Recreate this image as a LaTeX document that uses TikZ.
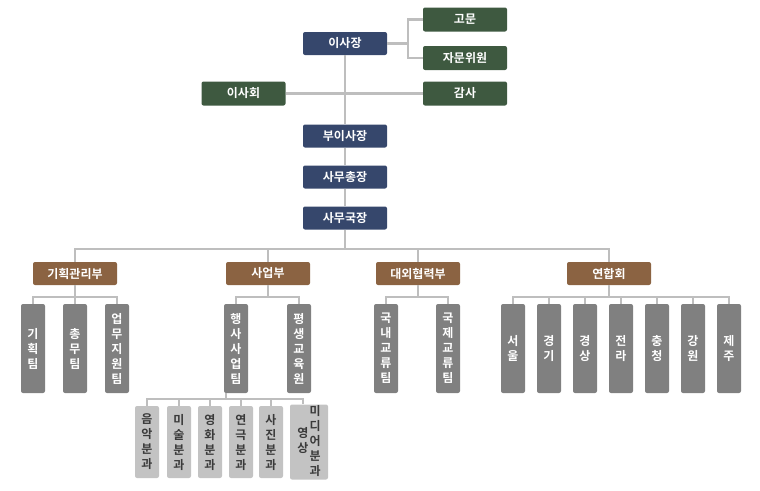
\documentclass[tikz,border=0pt]{standalone}
\usepackage{fontspec}
\setmainfont{Noto Sans CJK KR}[BoldFont={Noto Sans CJK KR Bold}]

\definecolor{orgnavy}{RGB}{54,71,108}
\definecolor{orggreen}{RGB}{62,89,64}
\definecolor{orgbrown}{RGB}{139,99,66}
\definecolor{orggray}{RGB}{128,128,128}
\definecolor{orglight}{RGB}{195,195,195}
\definecolor{orgtext}{RGB}{58,58,58}
\definecolor{orgline}{RGB}{190,190,190}

\tikzset{
  orgbox/.style={rectangle, rounded corners=2pt, inner sep=0pt, text=white,
    font=\fontsize{12}{15}\selectfont\bfseries},
  navybox/.style={orgbox, fill=orgnavy, minimum width=84pt, minimum height=23pt},
  greenbox/.style={orgbox, fill=orggreen, minimum width=84pt, minimum height=24pt},
  deptbox/.style={orgbox, fill=orgbrown, minimum width=84pt, minimum height=23pt},
  teambox/.style={orgbox, fill=orggray, minimum width=24pt, minimum height=89pt, align=center},
  secbox/.style={orgbox, fill=orglight, text=orgtext, minimum width=24pt, minimum height=72pt, align=center},
  link/.style={draw=orgline, line width=2.8pt}
}

\begin{document}
\begin{tikzpicture}[x=1pt, y=-1pt, node distance=41pt]

\useasboundingbox (0,0) rectangle (760,490);

% top
\node (chair) [navybox] at (345,43.5) {이사장};
\node (advisor) [greenbox] at (465,19.5) {고문};
\node (council) [greenbox] at (465,58) {자문위원};
\node (board) [greenbox] at (243.5,93.5) {이사회};
\node (audit) [greenbox] at (465,93.5) {감사};

\node (vice) [navybox] at (345,136) {부이사장};
\node (secgen) [navybox, below of=vice] {사무총장};
\node (director) [navybox, below of=secgen] {사무국장};

% departments
\node (plan) [deptbox] at (75,273.5) {기획관리부};
\node (biz) [deptbox] at (268,273.5) {사업부};
\node (ext) [deptbox] at (418,273.5) {대외협력부};
\node (assoc) [deptbox] at (609,273.5) {연합회};

% teams
\node (plant1) [teambox] at (33,348.5) {기\\획\\팀};
\node (plant2) [teambox] at (75,348.5) {총\\무\\팀};
\node (plant3) [teambox] at (117,348.5) {업\\무\\지\\원\\팀};
\node (bizt1) [teambox] at (236,348.5) {행\\사\\사\\업\\팀};
\node (bizt2) [teambox] at (299,348.5) {평\\생\\교\\육\\원};
\node (extt1) [teambox] at (386,348.5) {국\\내\\교\\류\\팀};
\node (extt2) [teambox] at (448,348.5) {국\\제\\교\\류\\팀};
\foreach \name [count=\i] in {{서\\울},{경\\기},{경\\상},{전\\라},{충\\청},{강\\원},{제\\주}}
  \node (reg\i) [teambox] at ({477+36*\i},348.5) {\name};

% sections
\node (sec1) [secbox] at (147,442) {음\\악\\분\\과};
\node (sec2) [secbox] at (179,442) {미\\술\\분\\과};
\node (sec3) [secbox] at (210,442) {영\\화\\분\\과};
\node (sec4) [secbox] at (241,442) {연\\극\\분\\과};
\node (sec5) [secbox] at (271,442) {사\\진\\분\\과};
\node (sec6) [secbox, minimum width=38pt] at (309,442)
  {\begin{tabular}{@{}c@{\hspace{1pt}}c@{}}
   \begin{tabular}[c]{@{}c@{}}영\\상\end{tabular} &
   \begin{tabular}[c]{@{}c@{}}미\\디\\어\\분\\과\end{tabular}
   \end{tabular}};

% connectors
\coordinate (fork) at (408,43.5);
\draw[link] (chair) -- (fork) |- (advisor);
\draw[link] (fork) |- (council);
\draw[link] (board) -- (audit);
\draw[link] (chair) -- (vice) -- (secgen) -- (director);

\coordinate (deptbus) at (345,249);
\draw[link] (director) -- (deptbus);
\draw[link] (plan) |- (deptbus) -| (assoc);
\draw[link] (biz) -- (biz |- deptbus);
\draw[link] (ext) -- (ext |- deptbus);

\coordinate (planbus) at (75,297);
\draw[link] (plan) -- (planbus);
\draw[link] (plant1) |- (planbus) -| (plant3);
\draw[link] (plant2) -- (plant2 |- planbus);

\coordinate (bizbus) at (268,297);
\draw[link] (biz) -- (bizbus);
\draw[link] (bizt1) |- (bizbus) -| (bizt2);

\coordinate (extbus) at (418,297);
\draw[link] (ext) -- (extbus);
\draw[link] (extt1) |- (extbus) -| (extt2);

\coordinate (assocbus) at (609,297);
\draw[link] (assoc) -- (assocbus);
\draw[link] (reg1) |- (assocbus) -| (reg7);
\foreach \i in {2,...,6}
  \draw[link] (reg\i) -- (reg\i |- assocbus);

\coordinate (secbus) at (226,399);
\coordinate (secend) at (303,399);
\draw[link] (bizt1.south -| secbus) -- (secbus);
\draw[link] (sec1) |- (secend) -- (secend |- sec6.north);
\foreach \i in {2,...,5}
  \draw[link] (sec\i) -- (sec\i |- secbus);

\end{tikzpicture}
\end{document}
